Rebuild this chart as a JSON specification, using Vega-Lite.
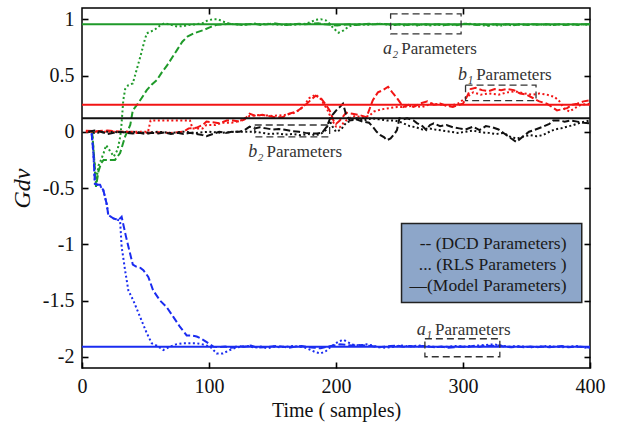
{
  "$schema": "https://vega.github.io/schema/vega-lite/v6.json",
  "width": 508,
  "height": 360,
  "autosize": {"type": "none"},
  "padding": {"left": 82, "top": 8, "right": 28, "bottom": 55},
  "background": "white",
  "config": {
    "view": {"stroke": "#000", "strokeWidth": 1.5},
    "font": "Liberation Serif",
    "axis": {
      "labelFont": "Liberation Serif", "labelFontSize": 20, "labelColor": "#111",
      "titleFont": "Liberation Serif", "titleFontSize": 20, "titleFontWeight": "normal", "titleColor": "#111",
      "domain": false, "grid": false, "tickColor": "#000", "tickSize": 6, "tickWidth": 1.6, "offset": -6,
      "labelPadding": 8, "labelFlush": false
    }
  },
  "datasets": {
    "curves": [
      {"p":"a2","m":"DCD","t":8,"v":0.0},{"p":"a2","m":"DCD","t":10,"v":-0.3},{"p":"a2","m":"DCD","t":11,"v":-0.49},{"p":"a2","m":"DCD","t":13,"v":-0.35},{"p":"a2","m":"DCD","t":15,"v":-0.28},{"p":"a2","m":"DCD","t":17,"v":-0.25},{"p":"a2","m":"DCD","t":22,"v":-0.25},{"p":"a2","m":"DCD","t":26,"v":-0.25},{"p":"a2","m":"DCD","t":30,"v":-0.19},{"p":"a2","m":"DCD","t":34,"v":-0.04},{"p":"a2","m":"DCD","t":38,"v":0.06},{"p":"a2","m":"DCD","t":40,"v":0.19},{"p":"a2","m":"DCD","t":44,"v":0.25},{"p":"a2","m":"DCD","t":47,"v":0.3},{"p":"a2","m":"DCD","t":51,"v":0.37},{"p":"a2","m":"DCD","t":55,"v":0.42},{"p":"a2","m":"DCD","t":59,"v":0.46},{"p":"a2","m":"DCD","t":63,"v":0.53},{"p":"a2","m":"DCD","t":67,"v":0.59},{"p":"a2","m":"DCD","t":71,"v":0.66},{"p":"a2","m":"DCD","t":75,"v":0.73},{"p":"a2","m":"DCD","t":79,"v":0.8},{"p":"a2","m":"DCD","t":83,"v":0.845},{"p":"a2","m":"DCD","t":88,"v":0.875},{"p":"a2","m":"DCD","t":92,"v":0.89},{"p":"a2","m":"DCD","t":96,"v":0.905},{"p":"a2","m":"DCD","t":101,"v":0.93},{"p":"a2","m":"DCD","t":106,"v":0.95},{"p":"a2","m":"DCD","t":111,"v":0.955},{"p":"a2","m":"DCD","t":116,"v":0.96},{"p":"a2","m":"DCD","t":121,"v":0.955},{"p":"a2","m":"DCD","t":126,"v":0.95},{"p":"a2","m":"DCD","t":131,"v":0.955},{"p":"a2","m":"DCD","t":136,"v":0.96},{"p":"a2","m":"DCD","t":141,"v":0.95},{"p":"a2","m":"DCD","t":146,"v":0.955},{"p":"a2","m":"DCD","t":151,"v":0.965},{"p":"a2","m":"DCD","t":156,"v":0.955},{"p":"a2","m":"DCD","t":161,"v":0.95},{"p":"a2","m":"DCD","t":166,"v":0.955},{"p":"a2","m":"DCD","t":171,"v":0.96},{"p":"a2","m":"DCD","t":176,"v":0.955},{"p":"a2","m":"DCD","t":181,"v":0.96},{"p":"a2","m":"DCD","t":186,"v":0.965},{"p":"a2","m":"DCD","t":191,"v":0.955},{"p":"a2","m":"DCD","t":196,"v":0.95},{"p":"a2","m":"DCD","t":201,"v":0.945},{"p":"a2","m":"DCD","t":206,"v":0.95},{"p":"a2","m":"DCD","t":211,"v":0.955},{"p":"a2","m":"DCD","t":216,"v":0.95},{"p":"a2","m":"DCD","t":221,"v":0.955},{"p":"a2","m":"DCD","t":226,"v":0.96},{"p":"a2","m":"DCD","t":231,"v":0.955},{"p":"a2","m":"DCD","t":236,"v":0.96},{"p":"a2","m":"DCD","t":241,"v":0.955},{"p":"a2","m":"DCD","t":246,"v":0.95},{"p":"a2","m":"DCD","t":251,"v":0.955},{"p":"a2","m":"DCD","t":256,"v":0.95},{"p":"a2","m":"DCD","t":261,"v":0.955},{"p":"a2","m":"DCD","t":266,"v":0.95},{"p":"a2","m":"DCD","t":271,"v":0.955},{"p":"a2","m":"DCD","t":276,"v":0.95},{"p":"a2","m":"DCD","t":281,"v":0.955},{"p":"a2","m":"DCD","t":286,"v":0.95},{"p":"a2","m":"DCD","t":291,"v":0.955},{"p":"a2","m":"DCD","t":296,"v":0.95},{"p":"a2","m":"DCD","t":301,"v":0.96},{"p":"a2","m":"DCD","t":306,"v":0.955},{"p":"a2","m":"DCD","t":311,"v":0.95},{"p":"a2","m":"DCD","t":316,"v":0.955},{"p":"a2","m":"DCD","t":321,"v":0.945},{"p":"a2","m":"DCD","t":326,"v":0.955},{"p":"a2","m":"DCD","t":331,"v":0.95},{"p":"a2","m":"DCD","t":336,"v":0.955},{"p":"a2","m":"DCD","t":341,"v":0.95},{"p":"a2","m":"DCD","t":346,"v":0.955},{"p":"a2","m":"DCD","t":351,"v":0.95},{"p":"a2","m":"DCD","t":356,"v":0.955},{"p":"a2","m":"DCD","t":361,"v":0.95},{"p":"a2","m":"DCD","t":366,"v":0.955},{"p":"a2","m":"DCD","t":371,"v":0.95},{"p":"a2","m":"DCD","t":376,"v":0.955},{"p":"a2","m":"DCD","t":381,"v":0.95},{"p":"a2","m":"DCD","t":386,"v":0.955},{"p":"a2","m":"DCD","t":391,"v":0.95},{"p":"a2","m":"DCD","t":396,"v":0.955},{"p":"a2","m":"DCD","t":400,"v":0.955},

      {"p":"a2","m":"RLS","t":8,"v":0.0},{"p":"a2","m":"RLS","t":10,"v":-0.3},{"p":"a2","m":"RLS","t":11,"v":-0.45},{"p":"a2","m":"RLS","t":13,"v":-0.3},{"p":"a2","m":"RLS","t":15,"v":-0.25},{"p":"a2","m":"RLS","t":17,"v":-0.19},{"p":"a2","m":"RLS","t":19,"v":-0.12},{"p":"a2","m":"RLS","t":22,"v":-0.17},{"p":"a2","m":"RLS","t":25,"v":-0.22},{"p":"a2","m":"RLS","t":28,"v":-0.16},{"p":"a2","m":"RLS","t":30,"v":-0.05},{"p":"a2","m":"RLS","t":31,"v":0.05},{"p":"a2","m":"RLS","t":32.5,"v":0.28},{"p":"a2","m":"RLS","t":34,"v":0.38},{"p":"a2","m":"RLS","t":36.5,"v":0.415},{"p":"a2","m":"RLS","t":40,"v":0.43},{"p":"a2","m":"RLS","t":43,"v":0.55},{"p":"a2","m":"RLS","t":46,"v":0.67},{"p":"a2","m":"RLS","t":49,"v":0.8},{"p":"a2","m":"RLS","t":51,"v":0.875},{"p":"a2","m":"RLS","t":54,"v":0.89},{"p":"a2","m":"RLS","t":57,"v":0.905},{"p":"a2","m":"RLS","t":61,"v":0.94},{"p":"a2","m":"RLS","t":65,"v":0.965},{"p":"a2","m":"RLS","t":70,"v":0.95},{"p":"a2","m":"RLS","t":75,"v":0.935},{"p":"a2","m":"RLS","t":80,"v":0.94},{"p":"a2","m":"RLS","t":85,"v":0.95},{"p":"a2","m":"RLS","t":90,"v":0.955},{"p":"a2","m":"RLS","t":95,"v":0.965},{"p":"a2","m":"RLS","t":99,"v":0.99},{"p":"a2","m":"RLS","t":103,"v":1.0},{"p":"a2","m":"RLS","t":107,"v":1.0},{"p":"a2","m":"RLS","t":111,"v":0.98},{"p":"a2","m":"RLS","t":116,"v":0.96},{"p":"a2","m":"RLS","t":121,"v":0.955},{"p":"a2","m":"RLS","t":126,"v":0.95},{"p":"a2","m":"RLS","t":131,"v":0.955},{"p":"a2","m":"RLS","t":136,"v":0.96},{"p":"a2","m":"RLS","t":141,"v":0.955},{"p":"a2","m":"RLS","t":146,"v":0.96},{"p":"a2","m":"RLS","t":151,"v":0.955},{"p":"a2","m":"RLS","t":156,"v":0.95},{"p":"a2","m":"RLS","t":161,"v":0.955},{"p":"a2","m":"RLS","t":166,"v":0.95},{"p":"a2","m":"RLS","t":171,"v":0.955},{"p":"a2","m":"RLS","t":176,"v":0.96},{"p":"a2","m":"RLS","t":180,"v":0.975},{"p":"a2","m":"RLS","t":184,"v":0.995},{"p":"a2","m":"RLS","t":188,"v":1.0},{"p":"a2","m":"RLS","t":192,"v":0.99},{"p":"a2","m":"RLS","t":195,"v":0.96},{"p":"a2","m":"RLS","t":198,"v":0.92},{"p":"a2","m":"RLS","t":202,"v":0.88},{"p":"a2","m":"RLS","t":206,"v":0.9},{"p":"a2","m":"RLS","t":210,"v":0.935},{"p":"a2","m":"RLS","t":214,"v":0.95},{"p":"a2","m":"RLS","t":219,"v":0.955},{"p":"a2","m":"RLS","t":224,"v":0.95},{"p":"a2","m":"RLS","t":229,"v":0.955},{"p":"a2","m":"RLS","t":234,"v":0.96},{"p":"a2","m":"RLS","t":239,"v":0.955},{"p":"a2","m":"RLS","t":244,"v":0.945},{"p":"a2","m":"RLS","t":249,"v":0.955},{"p":"a2","m":"RLS","t":254,"v":0.945},{"p":"a2","m":"RLS","t":259,"v":0.955},{"p":"a2","m":"RLS","t":264,"v":0.945},{"p":"a2","m":"RLS","t":269,"v":0.955},{"p":"a2","m":"RLS","t":274,"v":0.945},{"p":"a2","m":"RLS","t":279,"v":0.955},{"p":"a2","m":"RLS","t":284,"v":0.945},{"p":"a2","m":"RLS","t":289,"v":0.955},{"p":"a2","m":"RLS","t":294,"v":0.945},{"p":"a2","m":"RLS","t":299,"v":0.955},{"p":"a2","m":"RLS","t":304,"v":0.96},{"p":"a2","m":"RLS","t":309,"v":0.955},{"p":"a2","m":"RLS","t":314,"v":0.95},{"p":"a2","m":"RLS","t":319,"v":0.94},{"p":"a2","m":"RLS","t":324,"v":0.955},{"p":"a2","m":"RLS","t":329,"v":0.94},{"p":"a2","m":"RLS","t":334,"v":0.955},{"p":"a2","m":"RLS","t":339,"v":0.945},{"p":"a2","m":"RLS","t":344,"v":0.955},{"p":"a2","m":"RLS","t":349,"v":0.95},{"p":"a2","m":"RLS","t":354,"v":0.955},{"p":"a2","m":"RLS","t":359,"v":0.95},{"p":"a2","m":"RLS","t":364,"v":0.955},{"p":"a2","m":"RLS","t":369,"v":0.95},{"p":"a2","m":"RLS","t":374,"v":0.955},{"p":"a2","m":"RLS","t":379,"v":0.95},{"p":"a2","m":"RLS","t":384,"v":0.955},{"p":"a2","m":"RLS","t":389,"v":0.95},{"p":"a2","m":"RLS","t":394,"v":0.955},{"p":"a2","m":"RLS","t":400,"v":0.95},

      {"p":"b1","m":"DCD","t":3,"v":0.01},{"p":"b1","m":"DCD","t":10,"v":0.005},{"p":"b1","m":"DCD","t":20,"v":0.01},{"p":"b1","m":"DCD","t":30,"v":0.0},{"p":"b1","m":"DCD","t":35,"v":0.0},{"p":"b1","m":"DCD","t":40,"v":-0.01},{"p":"b1","m":"DCD","t":50,"v":-0.01},{"p":"b1","m":"DCD","t":60,"v":-0.005},{"p":"b1","m":"DCD","t":70,"v":-0.01},{"p":"b1","m":"DCD","t":80,"v":0.0},{"p":"b1","m":"DCD","t":84,"v":0.03},{"p":"b1","m":"DCD","t":90,"v":0.035},{"p":"b1","m":"DCD","t":95,"v":0.06},{"p":"b1","m":"DCD","t":98,"v":0.09},{"p":"b1","m":"DCD","t":103,"v":0.085},{"p":"b1","m":"DCD","t":108,"v":0.075},{"p":"b1","m":"DCD","t":114,"v":0.1},{"p":"b1","m":"DCD","t":119,"v":0.1},{"p":"b1","m":"DCD","t":124,"v":0.09},{"p":"b1","m":"DCD","t":128,"v":0.11},{"p":"b1","m":"DCD","t":132,"v":0.16},{"p":"b1","m":"DCD","t":137,"v":0.14},{"p":"b1","m":"DCD","t":142,"v":0.15},{"p":"b1","m":"DCD","t":147,"v":0.14},{"p":"b1","m":"DCD","t":152,"v":0.13},{"p":"b1","m":"DCD","t":158,"v":0.13},{"p":"b1","m":"DCD","t":163,"v":0.16},{"p":"b1","m":"DCD","t":169,"v":0.18},{"p":"b1","m":"DCD","t":174,"v":0.22},{"p":"b1","m":"DCD","t":179,"v":0.27},{"p":"b1","m":"DCD","t":184,"v":0.32},{"p":"b1","m":"DCD","t":188,"v":0.3},{"p":"b1","m":"DCD","t":192,"v":0.24},{"p":"b1","m":"DCD","t":195,"v":0.19},{"p":"b1","m":"DCD","t":198,"v":0.1},{"p":"b1","m":"DCD","t":200,"v":0.07},{"p":"b1","m":"DCD","t":203,"v":0.1},{"p":"b1","m":"DCD","t":208,"v":0.17},{"p":"b1","m":"DCD","t":213,"v":0.16},{"p":"b1","m":"DCD","t":218,"v":0.15},{"p":"b1","m":"DCD","t":224,"v":0.13},{"p":"b1","m":"DCD","t":229,"v":0.28},{"p":"b1","m":"DCD","t":233,"v":0.35},{"p":"b1","m":"DCD","t":237,"v":0.37},{"p":"b1","m":"DCD","t":241,"v":0.4},{"p":"b1","m":"DCD","t":245,"v":0.34},{"p":"b1","m":"DCD","t":248,"v":0.3},{"p":"b1","m":"DCD","t":253,"v":0.22},{"p":"b1","m":"DCD","t":257,"v":0.24},{"p":"b1","m":"DCD","t":261,"v":0.22},{"p":"b1","m":"DCD","t":266,"v":0.25},{"p":"b1","m":"DCD","t":272,"v":0.27},{"p":"b1","m":"DCD","t":277,"v":0.24},{"p":"b1","m":"DCD","t":282,"v":0.25},{"p":"b1","m":"DCD","t":287,"v":0.23},{"p":"b1","m":"DCD","t":292,"v":0.22},{"p":"b1","m":"DCD","t":297,"v":0.24},{"p":"b1","m":"DCD","t":300,"v":0.25},{"p":"b1","m":"DCD","t":303,"v":0.31},{"p":"b1","m":"DCD","t":306,"v":0.38},{"p":"b1","m":"DCD","t":310,"v":0.39},{"p":"b1","m":"DCD","t":315,"v":0.37},{"p":"b1","m":"DCD","t":320,"v":0.36},{"p":"b1","m":"DCD","t":325,"v":0.38},{"p":"b1","m":"DCD","t":330,"v":0.37},{"p":"b1","m":"DCD","t":335,"v":0.38},{"p":"b1","m":"DCD","t":340,"v":0.37},{"p":"b1","m":"DCD","t":345,"v":0.34},{"p":"b1","m":"DCD","t":350,"v":0.33},{"p":"b1","m":"DCD","t":355,"v":0.3},{"p":"b1","m":"DCD","t":360,"v":0.27},{"p":"b1","m":"DCD","t":366,"v":0.25},{"p":"b1","m":"DCD","t":370,"v":0.22},{"p":"b1","m":"DCD","t":374,"v":0.19},{"p":"b1","m":"DCD","t":378,"v":0.2},{"p":"b1","m":"DCD","t":382,"v":0.21},{"p":"b1","m":"DCD","t":386,"v":0.24},{"p":"b1","m":"DCD","t":390,"v":0.25},{"p":"b1","m":"DCD","t":395,"v":0.27},{"p":"b1","m":"DCD","t":400,"v":0.28},

      {"p":"b1","m":"RLS","t":3,"v":0.0},{"p":"b1","m":"RLS","t":20,"v":0.0},{"p":"b1","m":"RLS","t":40,"v":0.0},{"p":"b1","m":"RLS","t":52,"v":0.0},{"p":"b1","m":"RLS","t":54,"v":0.1},{"p":"b1","m":"RLS","t":60,"v":0.1},{"p":"b1","m":"RLS","t":70,"v":0.1},{"p":"b1","m":"RLS","t":80,"v":0.1},{"p":"b1","m":"RLS","t":85,"v":0.1},{"p":"b1","m":"RLS","t":87,"v":0.03},{"p":"b1","m":"RLS","t":95,"v":0.03},{"p":"b1","m":"RLS","t":98,"v":0.06},{"p":"b1","m":"RLS","t":105,"v":0.06},{"p":"b1","m":"RLS","t":110,"v":0.08},{"p":"b1","m":"RLS","t":118,"v":0.08},{"p":"b1","m":"RLS","t":125,"v":0.1},{"p":"b1","m":"RLS","t":132,"v":0.14},{"p":"b1","m":"RLS","t":140,"v":0.15},{"p":"b1","m":"RLS","t":150,"v":0.14},{"p":"b1","m":"RLS","t":160,"v":0.15},{"p":"b1","m":"RLS","t":168,"v":0.17},{"p":"b1","m":"RLS","t":174,"v":0.22},{"p":"b1","m":"RLS","t":179,"v":0.3},{"p":"b1","m":"RLS","t":184,"v":0.33},{"p":"b1","m":"RLS","t":188,"v":0.29},{"p":"b1","m":"RLS","t":193,"v":0.2},{"p":"b1","m":"RLS","t":197,"v":0.1},{"p":"b1","m":"RLS","t":200,"v":0.045},{"p":"b1","m":"RLS","t":203,"v":0.04},{"p":"b1","m":"RLS","t":206,"v":0.08},{"p":"b1","m":"RLS","t":210,"v":0.12},{"p":"b1","m":"RLS","t":215,"v":0.14},{"p":"b1","m":"RLS","t":220,"v":0.13},{"p":"b1","m":"RLS","t":226,"v":0.14},{"p":"b1","m":"RLS","t":230,"v":0.18},{"p":"b1","m":"RLS","t":236,"v":0.2},{"p":"b1","m":"RLS","t":242,"v":0.21},{"p":"b1","m":"RLS","t":248,"v":0.22},{"p":"b1","m":"RLS","t":253,"v":0.22},{"p":"b1","m":"RLS","t":260,"v":0.23},{"p":"b1","m":"RLS","t":268,"v":0.22},{"p":"b1","m":"RLS","t":275,"v":0.25},{"p":"b1","m":"RLS","t":283,"v":0.24},{"p":"b1","m":"RLS","t":290,"v":0.23},{"p":"b1","m":"RLS","t":296,"v":0.25},{"p":"b1","m":"RLS","t":302,"v":0.3},{"p":"b1","m":"RLS","t":308,"v":0.35},{"p":"b1","m":"RLS","t":314,"v":0.33},{"p":"b1","m":"RLS","t":320,"v":0.34},{"p":"b1","m":"RLS","t":328,"v":0.33},{"p":"b1","m":"RLS","t":335,"v":0.35},{"p":"b1","m":"RLS","t":341,"v":0.36},{"p":"b1","m":"RLS","t":348,"v":0.34},{"p":"b1","m":"RLS","t":355,"v":0.33},{"p":"b1","m":"RLS","t":360,"v":0.34},{"p":"b1","m":"RLS","t":366,"v":0.33},{"p":"b1","m":"RLS","t":372,"v":0.31},{"p":"b1","m":"RLS","t":376,"v":0.27},{"p":"b1","m":"RLS","t":380,"v":0.2},{"p":"b1","m":"RLS","t":384,"v":0.18},{"p":"b1","m":"RLS","t":388,"v":0.21},{"p":"b1","m":"RLS","t":393,"v":0.24},{"p":"b1","m":"RLS","t":400,"v":0.25},

      {"p":"b2","m":"DCD","t":5,"v":0.0},{"p":"b2","m":"DCD","t":10,"v":0.01},{"p":"b2","m":"DCD","t":15,"v":0.0},{"p":"b2","m":"DCD","t":20,"v":-0.02},{"p":"b2","m":"DCD","t":25,"v":-0.01},{"p":"b2","m":"DCD","t":30,"v":0.0},{"p":"b2","m":"DCD","t":35,"v":-0.01},{"p":"b2","m":"DCD","t":40,"v":-0.015},{"p":"b2","m":"DCD","t":45,"v":-0.01},{"p":"b2","m":"DCD","t":50,"v":-0.02},{"p":"b2","m":"DCD","t":55,"v":-0.01},{"p":"b2","m":"DCD","t":60,"v":-0.015},{"p":"b2","m":"DCD","t":65,"v":-0.005},{"p":"b2","m":"DCD","t":70,"v":-0.02},{"p":"b2","m":"DCD","t":75,"v":-0.01},{"p":"b2","m":"DCD","t":80,"v":-0.02},{"p":"b2","m":"DCD","t":85,"v":-0.01},{"p":"b2","m":"DCD","t":90,"v":-0.02},{"p":"b2","m":"DCD","t":95,"v":-0.03},{"p":"b2","m":"DCD","t":98,"v":-0.04},{"p":"b2","m":"DCD","t":103,"v":-0.02},{"p":"b2","m":"DCD","t":108,"v":0.0},{"p":"b2","m":"DCD","t":113,"v":-0.01},{"p":"b2","m":"DCD","t":118,"v":0.0},{"p":"b2","m":"DCD","t":124,"v":0.0},{"p":"b2","m":"DCD","t":128,"v":0.015},{"p":"b2","m":"DCD","t":132,"v":0.045},{"p":"b2","m":"DCD","t":136,"v":0.03},{"p":"b2","m":"DCD","t":140,"v":0.04},{"p":"b2","m":"DCD","t":145,"v":0.03},{"p":"b2","m":"DCD","t":150,"v":0.02},{"p":"b2","m":"DCD","t":155,"v":0.025},{"p":"b2","m":"DCD","t":161,"v":0.015},{"p":"b2","m":"DCD","t":166,"v":0.005},{"p":"b2","m":"DCD","t":171,"v":0.0},{"p":"b2","m":"DCD","t":176,"v":-0.01},{"p":"b2","m":"DCD","t":181,"v":-0.015},{"p":"b2","m":"DCD","t":185,"v":-0.015},{"p":"b2","m":"DCD","t":189,"v":-0.01},{"p":"b2","m":"DCD","t":193,"v":0.05},{"p":"b2","m":"DCD","t":196,"v":0.14},{"p":"b2","m":"DCD","t":198,"v":0.16},{"p":"b2","m":"DCD","t":201,"v":0.2},{"p":"b2","m":"DCD","t":203,"v":0.22},{"p":"b2","m":"DCD","t":205.5,"v":0.25},{"p":"b2","m":"DCD","t":208,"v":0.15},{"p":"b2","m":"DCD","t":211,"v":0.1},{"p":"b2","m":"DCD","t":216,"v":0.11},{"p":"b2","m":"DCD","t":221,"v":0.09},{"p":"b2","m":"DCD","t":226,"v":0.08},{"p":"b2","m":"DCD","t":229,"v":0.045},{"p":"b2","m":"DCD","t":232,"v":0.0},{"p":"b2","m":"DCD","t":235,"v":-0.03},{"p":"b2","m":"DCD","t":238,"v":-0.05},{"p":"b2","m":"DCD","t":240,"v":-0.075},{"p":"b2","m":"DCD","t":243,"v":-0.06},{"p":"b2","m":"DCD","t":246,"v":-0.02},{"p":"b2","m":"DCD","t":248,"v":0.015},{"p":"b2","m":"DCD","t":250,"v":0.12},{"p":"b2","m":"DCD","t":253,"v":0.11},{"p":"b2","m":"DCD","t":256,"v":0.12},{"p":"b2","m":"DCD","t":261,"v":0.1},{"p":"b2","m":"DCD","t":264,"v":0.075},{"p":"b2","m":"DCD","t":268,"v":0.05},{"p":"b2","m":"DCD","t":271,"v":0.015},{"p":"b2","m":"DCD","t":274,"v":0.06},{"p":"b2","m":"DCD","t":277,"v":0.075},{"p":"b2","m":"DCD","t":282,"v":0.05},{"p":"b2","m":"DCD","t":287,"v":0.06},{"p":"b2","m":"DCD","t":292,"v":0.04},{"p":"b2","m":"DCD","t":297,"v":0.03},{"p":"b2","m":"DCD","t":302,"v":0.02},{"p":"b2","m":"DCD","t":308,"v":0.045},{"p":"b2","m":"DCD","t":313,"v":0.015},{"p":"b2","m":"DCD","t":318,"v":0.05},{"p":"b2","m":"DCD","t":323,"v":0.04},{"p":"b2","m":"DCD","t":328,"v":0.02},{"p":"b2","m":"DCD","t":333,"v":-0.02},{"p":"b2","m":"DCD","t":338,"v":-0.06},{"p":"b2","m":"DCD","t":342,"v":-0.09},{"p":"b2","m":"DCD","t":347,"v":-0.045},{"p":"b2","m":"DCD","t":352,"v":0.0},{"p":"b2","m":"DCD","t":356,"v":0.015},{"p":"b2","m":"DCD","t":363,"v":0.045},{"p":"b2","m":"DCD","t":368,"v":0.07},{"p":"b2","m":"DCD","t":371,"v":0.1},{"p":"b2","m":"DCD","t":376,"v":0.1},{"p":"b2","m":"DCD","t":380,"v":0.09},{"p":"b2","m":"DCD","t":385,"v":0.1},{"p":"b2","m":"DCD","t":390,"v":0.09},{"p":"b2","m":"DCD","t":395,"v":0.08},{"p":"b2","m":"DCD","t":400,"v":0.075},

      {"p":"b2","m":"RLS","t":5,"v":0.0},{"p":"b2","m":"RLS","t":10,"v":-0.01},{"p":"b2","m":"RLS","t":20,"v":0.0},{"p":"b2","m":"RLS","t":30,"v":-0.005},{"p":"b2","m":"RLS","t":40,"v":0.0},{"p":"b2","m":"RLS","t":50,"v":-0.01},{"p":"b2","m":"RLS","t":60,"v":0.0},{"p":"b2","m":"RLS","t":70,"v":-0.01},{"p":"b2","m":"RLS","t":80,"v":0.0},{"p":"b2","m":"RLS","t":90,"v":-0.01},{"p":"b2","m":"RLS","t":100,"v":0.0},{"p":"b2","m":"RLS","t":110,"v":-0.01},{"p":"b2","m":"RLS","t":120,"v":0.0},{"p":"b2","m":"RLS","t":130,"v":0.0},{"p":"b2","m":"RLS","t":136,"v":0.0},{"p":"b2","m":"RLS","t":142,"v":-0.01},{"p":"b2","m":"RLS","t":148,"v":-0.02},{"p":"b2","m":"RLS","t":154,"v":-0.015},{"p":"b2","m":"RLS","t":160,"v":-0.025},{"p":"b2","m":"RLS","t":166,"v":-0.02},{"p":"b2","m":"RLS","t":172,"v":-0.03},{"p":"b2","m":"RLS","t":178,"v":-0.02},{"p":"b2","m":"RLS","t":184,"v":-0.03},{"p":"b2","m":"RLS","t":188,"v":-0.02},{"p":"b2","m":"RLS","t":192,"v":0.015},{"p":"b2","m":"RLS","t":195,"v":0.1},{"p":"b2","m":"RLS","t":197,"v":0.05},{"p":"b2","m":"RLS","t":200,"v":0.0},{"p":"b2","m":"RLS","t":204,"v":0.02},{"p":"b2","m":"RLS","t":208,"v":0.08},{"p":"b2","m":"RLS","t":212,"v":0.1},{"p":"b2","m":"RLS","t":216,"v":0.12},{"p":"b2","m":"RLS","t":222,"v":0.1},{"p":"b2","m":"RLS","t":228,"v":0.12},{"p":"b2","m":"RLS","t":234,"v":0.11},{"p":"b2","m":"RLS","t":240,"v":0.1},{"p":"b2","m":"RLS","t":246,"v":0.1},{"p":"b2","m":"RLS","t":250,"v":0.09},{"p":"b2","m":"RLS","t":254,"v":0.07},{"p":"b2","m":"RLS","t":258,"v":0.05},{"p":"b2","m":"RLS","t":263,"v":0.04},{"p":"b2","m":"RLS","t":268,"v":0.02},{"p":"b2","m":"RLS","t":273,"v":0.03},{"p":"b2","m":"RLS","t":278,"v":0.02},{"p":"b2","m":"RLS","t":284,"v":0.01},{"p":"b2","m":"RLS","t":290,"v":0.0},{"p":"b2","m":"RLS","t":296,"v":-0.01},{"p":"b2","m":"RLS","t":302,"v":0.0},{"p":"b2","m":"RLS","t":308,"v":0.01},{"p":"b2","m":"RLS","t":314,"v":-0.005},{"p":"b2","m":"RLS","t":320,"v":-0.01},{"p":"b2","m":"RLS","t":326,"v":-0.02},{"p":"b2","m":"RLS","t":332,"v":-0.01},{"p":"b2","m":"RLS","t":338,"v":-0.05},{"p":"b2","m":"RLS","t":343,"v":-0.06},{"p":"b2","m":"RLS","t":348,"v":-0.04},{"p":"b2","m":"RLS","t":353,"v":-0.03},{"p":"b2","m":"RLS","t":358,"v":-0.04},{"p":"b2","m":"RLS","t":363,"v":-0.03},{"p":"b2","m":"RLS","t":368,"v":0.0},{"p":"b2","m":"RLS","t":372,"v":0.02},{"p":"b2","m":"RLS","t":377,"v":0.03},{"p":"b2","m":"RLS","t":382,"v":0.045},{"p":"b2","m":"RLS","t":387,"v":0.06},{"p":"b2","m":"RLS","t":392,"v":0.08},{"p":"b2","m":"RLS","t":396,"v":0.09},{"p":"b2","m":"RLS","t":400,"v":0.1},

      {"p":"a1","m":"DCD","t":7.6,"v":-0.015},{"p":"a1","m":"DCD","t":9,"v":-0.19},{"p":"a1","m":"DCD","t":10.2,"v":-0.46},{"p":"a1","m":"DCD","t":12,"v":-0.47},{"p":"a1","m":"DCD","t":14.2,"v":-0.47},{"p":"a1","m":"DCD","t":16.8,"v":-0.52},{"p":"a1","m":"DCD","t":19.4,"v":-0.64},{"p":"a1","m":"DCD","t":20.7,"v":-0.74},{"p":"a1","m":"DCD","t":24.7,"v":-0.77},{"p":"a1","m":"DCD","t":28.6,"v":-0.785},{"p":"a1","m":"DCD","t":31.2,"v":-0.755},{"p":"a1","m":"DCD","t":34.6,"v":-0.93},{"p":"a1","m":"DCD","t":37.8,"v":-1.08},{"p":"a1","m":"DCD","t":40,"v":-1.18},{"p":"a1","m":"DCD","t":43,"v":-1.2},{"p":"a1","m":"DCD","t":46,"v":-1.21},{"p":"a1","m":"DCD","t":48.3,"v":-1.23},{"p":"a1","m":"DCD","t":52.2,"v":-1.29},{"p":"a1","m":"DCD","t":56,"v":-1.41},{"p":"a1","m":"DCD","t":61.4,"v":-1.5},{"p":"a1","m":"DCD","t":66.7,"v":-1.56},{"p":"a1","m":"DCD","t":71.9,"v":-1.645},{"p":"a1","m":"DCD","t":77.2,"v":-1.735},{"p":"a1","m":"DCD","t":82.4,"v":-1.81},{"p":"a1","m":"DCD","t":86,"v":-1.81},{"p":"a1","m":"DCD","t":90.3,"v":-1.82},{"p":"a1","m":"DCD","t":94,"v":-1.84},{"p":"a1","m":"DCD","t":98.2,"v":-1.87},{"p":"a1","m":"DCD","t":103.4,"v":-1.91},{"p":"a1","m":"DCD","t":108,"v":-1.915},{"p":"a1","m":"DCD","t":113,"v":-1.91},{"p":"a1","m":"DCD","t":118,"v":-1.92},{"p":"a1","m":"DCD","t":123,"v":-1.905},{"p":"a1","m":"DCD","t":128,"v":-1.91},{"p":"a1","m":"DCD","t":133,"v":-1.9},{"p":"a1","m":"DCD","t":138,"v":-1.92},{"p":"a1","m":"DCD","t":143,"v":-1.915},{"p":"a1","m":"DCD","t":148,"v":-1.91},{"p":"a1","m":"DCD","t":153,"v":-1.905},{"p":"a1","m":"DCD","t":158,"v":-1.91},{"p":"a1","m":"DCD","t":163,"v":-1.92},{"p":"a1","m":"DCD","t":168,"v":-1.91},{"p":"a1","m":"DCD","t":173,"v":-1.905},{"p":"a1","m":"DCD","t":178,"v":-1.915},{"p":"a1","m":"DCD","t":183,"v":-1.92},{"p":"a1","m":"DCD","t":188,"v":-1.925},{"p":"a1","m":"DCD","t":193,"v":-1.91},{"p":"a1","m":"DCD","t":198,"v":-1.9},{"p":"a1","m":"DCD","t":203,"v":-1.89},{"p":"a1","m":"DCD","t":208,"v":-1.895},{"p":"a1","m":"DCD","t":213,"v":-1.9},{"p":"a1","m":"DCD","t":218,"v":-1.895},{"p":"a1","m":"DCD","t":223,"v":-1.9},{"p":"a1","m":"DCD","t":228,"v":-1.905},{"p":"a1","m":"DCD","t":233,"v":-1.915},{"p":"a1","m":"DCD","t":238,"v":-1.91},{"p":"a1","m":"DCD","t":243,"v":-1.905},{"p":"a1","m":"DCD","t":248,"v":-1.9},{"p":"a1","m":"DCD","t":253,"v":-1.91},{"p":"a1","m":"DCD","t":258,"v":-1.905},{"p":"a1","m":"DCD","t":263,"v":-1.91},{"p":"a1","m":"DCD","t":268,"v":-1.905},{"p":"a1","m":"DCD","t":273,"v":-1.91},{"p":"a1","m":"DCD","t":278,"v":-1.915},{"p":"a1","m":"DCD","t":283,"v":-1.91},{"p":"a1","m":"DCD","t":288,"v":-1.92},{"p":"a1","m":"DCD","t":293,"v":-1.915},{"p":"a1","m":"DCD","t":298,"v":-1.91},{"p":"a1","m":"DCD","t":303,"v":-1.915},{"p":"a1","m":"DCD","t":308,"v":-1.905},{"p":"a1","m":"DCD","t":313,"v":-1.91},{"p":"a1","m":"DCD","t":318,"v":-1.9},{"p":"a1","m":"DCD","t":323,"v":-1.905},{"p":"a1","m":"DCD","t":328,"v":-1.9},{"p":"a1","m":"DCD","t":333,"v":-1.91},{"p":"a1","m":"DCD","t":338,"v":-1.915},{"p":"a1","m":"DCD","t":343,"v":-1.91},{"p":"a1","m":"DCD","t":348,"v":-1.915},{"p":"a1","m":"DCD","t":353,"v":-1.91},{"p":"a1","m":"DCD","t":358,"v":-1.915},{"p":"a1","m":"DCD","t":363,"v":-1.91},{"p":"a1","m":"DCD","t":368,"v":-1.915},{"p":"a1","m":"DCD","t":373,"v":-1.91},{"p":"a1","m":"DCD","t":378,"v":-1.905},{"p":"a1","m":"DCD","t":383,"v":-1.915},{"p":"a1","m":"DCD","t":388,"v":-1.91},{"p":"a1","m":"DCD","t":393,"v":-1.91},{"p":"a1","m":"DCD","t":400,"v":-1.92},

      {"p":"a1","m":"RLS","t":7.6,"v":-0.015},{"p":"a1","m":"RLS","t":9,"v":-0.2},{"p":"a1","m":"RLS","t":10.2,"v":-0.48},{"p":"a1","m":"RLS","t":12,"v":-0.47},{"p":"a1","m":"RLS","t":14.2,"v":-0.48},{"p":"a1","m":"RLS","t":16.8,"v":-0.52},{"p":"a1","m":"RLS","t":19.4,"v":-0.64},{"p":"a1","m":"RLS","t":20.7,"v":-0.74},{"p":"a1","m":"RLS","t":24.7,"v":-0.77},{"p":"a1","m":"RLS","t":28.6,"v":-0.785},{"p":"a1","m":"RLS","t":30,"v":-0.79},{"p":"a1","m":"RLS","t":31.2,"v":-1.02},{"p":"a1","m":"RLS","t":33.9,"v":-1.23},{"p":"a1","m":"RLS","t":36.5,"v":-1.41},{"p":"a1","m":"RLS","t":40.4,"v":-1.5},{"p":"a1","m":"RLS","t":45.7,"v":-1.645},{"p":"a1","m":"RLS","t":51,"v":-1.79},{"p":"a1","m":"RLS","t":54.9,"v":-1.88},{"p":"a1","m":"RLS","t":58.8,"v":-1.9},{"p":"a1","m":"RLS","t":64,"v":-1.94},{"p":"a1","m":"RLS","t":69.3,"v":-1.91},{"p":"a1","m":"RLS","t":74,"v":-1.89},{"p":"a1","m":"RLS","t":79.8,"v":-1.88},{"p":"a1","m":"RLS","t":85,"v":-1.88},{"p":"a1","m":"RLS","t":90.3,"v":-1.88},{"p":"a1","m":"RLS","t":95,"v":-1.89},{"p":"a1","m":"RLS","t":100.8,"v":-1.91},{"p":"a1","m":"RLS","t":106,"v":-1.97},{"p":"a1","m":"RLS","t":111,"v":-1.97},{"p":"a1","m":"RLS","t":116.5,"v":-1.94},{"p":"a1","m":"RLS","t":121,"v":-1.92},{"p":"a1","m":"RLS","t":126,"v":-1.91},{"p":"a1","m":"RLS","t":131,"v":-1.905},{"p":"a1","m":"RLS","t":136,"v":-1.92},{"p":"a1","m":"RLS","t":141,"v":-1.91},{"p":"a1","m":"RLS","t":146,"v":-1.925},{"p":"a1","m":"RLS","t":151,"v":-1.91},{"p":"a1","m":"RLS","t":156,"v":-1.915},{"p":"a1","m":"RLS","t":161,"v":-1.91},{"p":"a1","m":"RLS","t":166,"v":-1.905},{"p":"a1","m":"RLS","t":171,"v":-1.91},{"p":"a1","m":"RLS","t":176,"v":-1.92},{"p":"a1","m":"RLS","t":180,"v":-1.94},{"p":"a1","m":"RLS","t":184,"v":-1.96},{"p":"a1","m":"RLS","t":188,"v":-1.97},{"p":"a1","m":"RLS","t":192,"v":-1.95},{"p":"a1","m":"RLS","t":196,"v":-1.91},{"p":"a1","m":"RLS","t":200,"v":-1.88},{"p":"a1","m":"RLS","t":203,"v":-1.86},{"p":"a1","m":"RLS","t":206,"v":-1.85},{"p":"a1","m":"RLS","t":209,"v":-1.87},{"p":"a1","m":"RLS","t":213,"v":-1.89},{"p":"a1","m":"RLS","t":218,"v":-1.9},{"p":"a1","m":"RLS","t":224,"v":-1.89},{"p":"a1","m":"RLS","t":229,"v":-1.9},{"p":"a1","m":"RLS","t":234,"v":-1.915},{"p":"a1","m":"RLS","t":240,"v":-1.92},{"p":"a1","m":"RLS","t":246,"v":-1.91},{"p":"a1","m":"RLS","t":252,"v":-1.9},{"p":"a1","m":"RLS","t":258,"v":-1.91},{"p":"a1","m":"RLS","t":264,"v":-1.9},{"p":"a1","m":"RLS","t":270,"v":-1.905},{"p":"a1","m":"RLS","t":276,"v":-1.91},{"p":"a1","m":"RLS","t":282,"v":-1.915},{"p":"a1","m":"RLS","t":288,"v":-1.91},{"p":"a1","m":"RLS","t":294,"v":-1.905},{"p":"a1","m":"RLS","t":300,"v":-1.91},{"p":"a1","m":"RLS","t":306,"v":-1.905},{"p":"a1","m":"RLS","t":312,"v":-1.9},{"p":"a1","m":"RLS","t":318,"v":-1.895},{"p":"a1","m":"RLS","t":324,"v":-1.89},{"p":"a1","m":"RLS","t":330,"v":-1.9},{"p":"a1","m":"RLS","t":336,"v":-1.91},{"p":"a1","m":"RLS","t":342,"v":-1.905},{"p":"a1","m":"RLS","t":348,"v":-1.91},{"p":"a1","m":"RLS","t":354,"v":-1.915},{"p":"a1","m":"RLS","t":360,"v":-1.91},{"p":"a1","m":"RLS","t":366,"v":-1.905},{"p":"a1","m":"RLS","t":372,"v":-1.91},{"p":"a1","m":"RLS","t":378,"v":-1.915},{"p":"a1","m":"RLS","t":384,"v":-1.91},{"p":"a1","m":"RLS","t":390,"v":-1.905},{"p":"a1","m":"RLS","t":396,"v":-1.92},{"p":"a1","m":"RLS","t":400,"v":-1.915}
    ],
    "model": [
      {"p":"a2","v":0.955},{"p":"b1","v":0.24},{"p":"b2","v":0.12},{"p":"a1","v":-1.91}
    ],
    "boxes": [
      {"t1":243,"t2":298.5,"v1":0.87,"v2":1.047},
      {"t1":302,"t2":357.5,"v1":0.276,"v2":0.415},
      {"t1":136,"t2":195,"v1":-0.045,"v2":0.06},
      {"t1":270,"t2":329,"v1":-2.0,"v2":-1.84}
    ],
    "labels": [
      {"t":249,"v":0.733,"sym":"a₂","word":"Parameters"},
      {"t":308,"v":0.505,"sym":"b₁","word":"Parameters"},
      {"t":143,"v":-0.18,"sym":"b₂","word":"Parameters"},
      {"t":275.6,"v":-1.765,"sym":"a₁","word":"Parameters"}
    ],
    "legendbox": [{"t1":251.6,"t2":393.5,"v1":-1.518,"v2":-0.815}],
    "legendtext": [
      {"t":381.5,"v":-1.0,"txt":"-- (DCD Parameters)"},
      {"t":381.5,"v":-1.186,"txt":"... (RLS Parameters )"},
      {"t":381.5,"v":-1.37,"txt":"—(Model Parameters)"}
    ]
  },
  "resolve": {"axis": {"x": "independent", "y": "independent"}},
  "layer": [
    {
      "data": {"name": "curves"},
      "mark": {"type": "line", "strokeWidth": 2, "clip": true},
      "encoding": {
        "x": {"field": "t", "type": "quantitative", "scale": {"domain": [0, 400], "nice": false, "zero": false},
              "axis": {"orient": "bottom", "values": [0, 100, 200, 300, 400], "title": "Time ( samples)", "titlePadding": 4}},
        "y": {"field": "v", "type": "quantitative", "scale": {"domain": [-2.1, 1.1], "nice": false, "zero": false},
              "axis": {"orient": "left", "values": [-2, -1.5, -1, -0.5, 0, 0.5, 1], "format": "~g", "title": "Gdv", "titleFontStyle": "italic", "titleFontSize": 24, "titlePadding": 8,
                       "labelExpr": "replace(datum.label, '−', '-')"}},
        "color": {"field": "p", "type": "nominal", "scale": {"domain": ["a1", "a2", "b1", "b2"], "range": ["#1a2cf0", "#1f9a2a", "#f21414", "#111111"]}, "legend": null},
        "strokeDash": {"field": "m", "type": "nominal", "scale": {"domain": ["DCD", "RLS"], "range": [[7, 3], [2, 2.5]]}, "legend": null},
        "order": {"field": "t", "type": "quantitative"}
      }
    },
    {
      "data": {"name": "model"},
      "mark": {"type": "rule", "strokeWidth": 2},
      "encoding": {
        "y": {"field": "v", "type": "quantitative", "axis": null},
        "color": {"field": "p", "type": "nominal", "scale": {"domain": ["a1", "a2", "b1", "b2"], "range": ["#1a2cf0", "#35785a", "#f21414", "#111111"]}, "legend": null}
      }
    },
    {
      "data": {"name": "boxes"},
      "mark": {"type": "rect", "fill": null, "fillOpacity": 0, "stroke": "#333333", "strokeWidth": 1.3, "strokeDash": [7, 4]},
      "encoding": {
        "x": {"field": "t1", "type": "quantitative", "axis": null},
        "x2": {"field": "t2"},
        "y": {"field": "v1", "type": "quantitative", "axis": null},
        "y2": {"field": "v2"}
      }
    },
    {
      "data": {"name": "labels"},
      "mark": {"type": "text", "align": "left", "baseline": "middle", "dx": 3, "font": "Liberation Serif", "fontSize": 17, "color": "#333333"},
      "encoding": {
        "x": {"field": "t", "type": "quantitative", "axis": null},
        "y": {"field": "v", "type": "quantitative", "axis": null},
        "text": {"field": "word"}
      }
    },
    {
      "data": {"name": "labels"},
      "mark": {"type": "text", "align": "right", "baseline": "middle", "dx": 0, "font": "Liberation Serif", "fontSize": 18, "fontStyle": "italic", "color": "#333333"},
      "encoding": {
        "x": {"field": "t", "type": "quantitative", "axis": null},
        "y": {"field": "v", "type": "quantitative", "axis": null},
        "text": {"field": "sym"}
      }
    },
    {
      "data": {"name": "legendbox"},
      "mark": {"type": "rect", "fill": "#8da6c9", "stroke": "#222222", "strokeWidth": 1.5},
      "encoding": {
        "x": {"field": "t1", "type": "quantitative", "axis": {"orient": "top", "values": [100, 200, 300], "labels": false, "title": null}},
        "x2": {"field": "t2"},
        "y": {"field": "v1", "type": "quantitative", "axis": {"orient": "right", "values": [-2, -1.5, -1, -0.5, 0, 0.5, 1], "labels": false, "title": null}},
        "y2": {"field": "v2"}
      }
    },
    {
      "data": {"name": "legendtext"},
      "mark": {"type": "text", "align": "right", "baseline": "middle", "font": "Liberation Serif", "fontSize": 17.5, "color": "#1a1a1a"},
      "encoding": {
        "x": {"field": "t", "type": "quantitative", "axis": null},
        "y": {"field": "v", "type": "quantitative", "axis": null},
        "text": {"field": "txt"}
      }
    }
  ]
}
